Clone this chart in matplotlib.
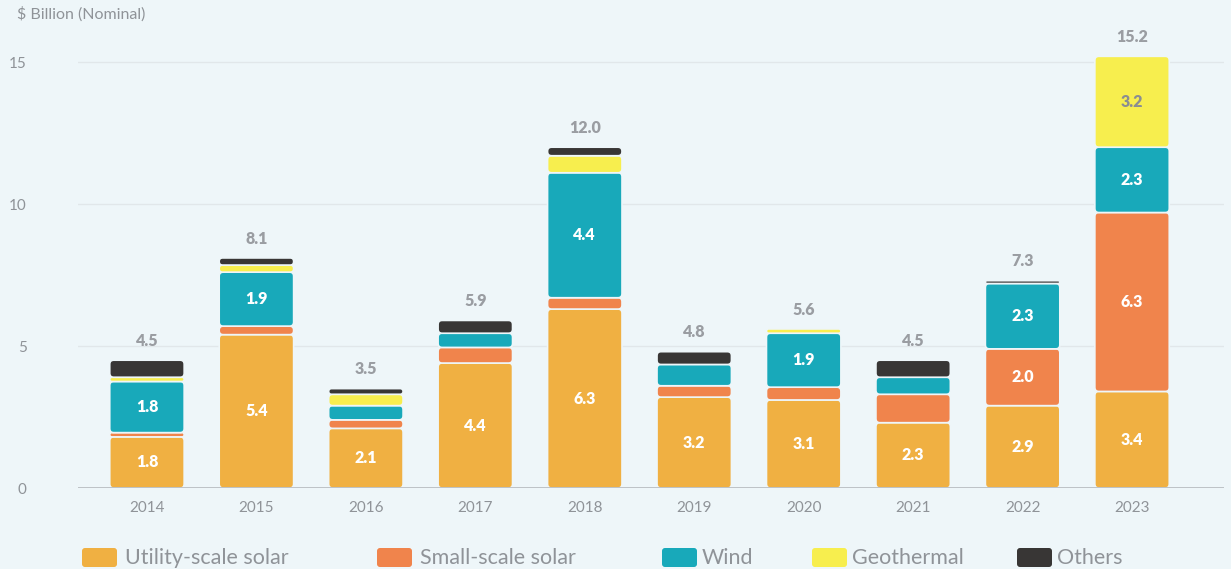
import matplotlib
matplotlib.use("Agg")
import matplotlib.pyplot as plt
from matplotlib.patches import FancyBboxPatch
import numpy as np

years = ["2014", "2015", "2016", "2017", "2018", "2019", "2020", "2021", "2022", "2023"]
series_names = ["Utility-scale solar", "Small-scale solar", "Wind", "Geothermal", "Others"]
utility = [1.8, 5.4, 2.1, 4.4, 6.3, 3.2, 3.1, 2.3, 2.9, 3.4]
small = [0.15, 0.3, 0.3, 0.55, 0.4, 0.4, 0.45, 1.0, 2.0, 6.3]
wind = [1.8, 1.9, 0.5, 0.5, 4.4, 0.75, 1.9, 0.6, 2.3, 2.3]
geothermal = [0.15, 0.25, 0.4, 0.0, 0.6, 0.0, 0.15, 0.0, 0.0, 3.2]
others = [0.6, 0.25, 0.2, 0.45, 0.3, 0.45, 0.0, 0.6, 0.1, 0.0]
totals = [4.5, 8.1, 3.5, 5.9, 12.0, 4.8, 5.6, 4.5, 7.3, 15.2]

colors = ["#F0B042", "#F0844C", "#18A9BA", "#F7EE4E", "#383635"]
label_colors = ["white", "white", "white", "#8a8d92", "white"]
BG = "#EEF6F9"
GREY = "#8f9398"

plt.rcParams["font.family"] = ["Lato", "DejaVu Sans"]

fig = plt.figure(figsize=(12.31, 5.69), dpi=100, facecolor=BG)
ax = fig.add_axes([78 / 1231, 1 - 488 / 569, (1224 - 78) / 1231, (488 - 33.6) / 569])
ax.set_facecolor(BG)
ax.set_xlim(-0.63, 9.84)
ax.set_ylim(0, 16)

x = np.arange(len(years))
width = 0.68
xpx = 109.44
ypx = 28.4
m = xpx / ypx
r = 4.0 / xpx

for v in [5, 10, 15]:
    ax.axhline(v, color="#e1e7ea", lw=1.0, zorder=0)
ax.axhline(0, color="#b9bec2", lw=1.3, zorder=3)

data = [utility, small, wind, geothermal, others]
bottom = np.zeros(len(years))
for si, vals in enumerate(data):
    vals = np.array(vals)
    bars = ax.bar(x, vals, width=width, bottom=bottom, color=colors[si], alpha=0)
    for i, b in enumerate(bars):
        h = b.get_height()
        if h <= 0:
            continue
        x0, y0, w = b.get_x(), b.get_y(), b.get_width()
        dr = min(r, h / (2 * m) * 0.95)
        p = FancyBboxPatch((x0, y0), w, h,
                           boxstyle=f"round,pad=0,rounding_size={dr}",
                           mutation_aspect=m, facecolor=colors[si],
                           edgecolor=BG, lw=1.2, zorder=2)
        ax.add_patch(p)
        if h >= 1.5:
            ax.text(x0 + w / 2, y0 + h / 2, f"{vals[i]:.1f}", ha="center", va="center",
                    color=label_colors[si], fontsize=11.5, fontweight="heavy", zorder=4)
    bottom = bottom + vals

for i, t in enumerate(totals):
    ax.text(x[i], t + 0.4, f"{t:.1f}", ha="center", va="bottom", color="#9a9da2",
            fontsize=11.5, fontweight="heavy")

ax.set_yticks([0, 5, 10, 15])
ax.set_yticklabels(["0", "5", "10", "15"])
ax.set_xticks(x)
ax.set_xticklabels(years)
ax.tick_params(axis="y", length=0, pad=37, labelsize=11, labelcolor=GREY)
ax.tick_params(axis="x", length=0, pad=9, labelsize=11, labelcolor=GREY)
for s in ax.spines.values():
    s.set_visible(False)

fig.text(17 / 1231, 1 - 14 / 569, "$ Billion (Nominal)", ha="left", va="center",
         fontsize=11.5, color=GREY)

# legend
lax = fig.add_axes([0, 0, 1, 1], zorder=-1)
lax.set_xlim(0, 1231)
lax.set_ylim(569, 0)
lax.axis("off")
lax.patch.set_alpha(0)
patch_x = [82, 377, 662, 812, 1017]
text_x = [125, 420, 702, 852, 1057]
for si in range(5):
    lax.add_patch(FancyBboxPatch((patch_x[si], 548), 35, 19,
                                 boxstyle="round,pad=0,rounding_size=3",
                                 facecolor=colors[si], edgecolor="none"))
    lax.text(text_x[si], 558, series_names[si], ha="left", va="center",
             fontsize=15.5, color=GREY)

fig.savefig("out.png", dpi=100, facecolor=BG)
